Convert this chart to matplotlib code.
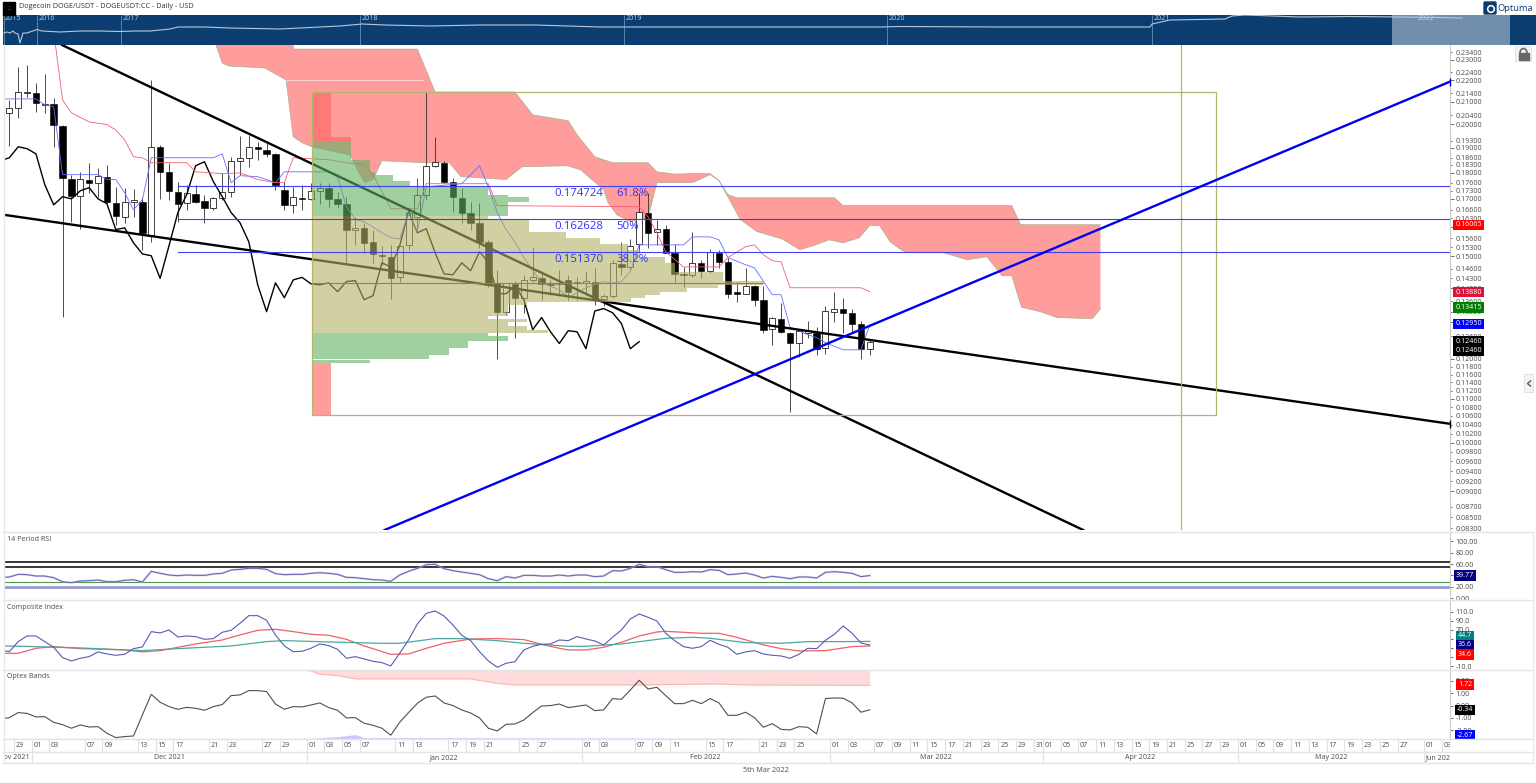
import matplotlib
matplotlib.use("Agg")
import matplotlib.pyplot as plt
from matplotlib.patches import Rectangle, FancyBboxPatch, Arc, Circle
import numpy as np

plt.rcParams['font.family'] = ['Open Sans', 'DejaVu Sans']

# daily candles, first one is 28 Nov 2021 (day -3), day 0 = 1 Dec 2021
first_day = -3
opens = [.2050, .2072, .2141, .2141, .2086, .2090, .1993, .1776, .1712, .1773, .1761, .1784, .1685, .1635, .1689, .1689,
         .1572, .1904, .1803, .1727, .1685, .1719, .1693, .1667, .1704, .1727, .1847, .1859, .1904, .1892, .1875, .1734,
         .1678, .1704, .1700, .1730, .1742, .1700, .1682, .1590, .1596, .1548, .1505, .1499, .1433, .1538, .1635, .1716,
         .1827, .1839, .1765, .1704, .1650, .1614, .1548, .1416, .1330, .1413, .1371, .1425, .1430, .1413, .1413, .1425,
         .1416, .1416, .1420, .1368, .1377, .1476, .1466, .1542, .1650, .1583, .1593, .1512, .1444, .1441, .1479, .1454,
         .1512, .1482, .1386, .1383, .1407, .1365, .1282, .1310, .1271, .1241, .1271, .1271, .1229, .1330, .1339, .1327,
         .1296, .1227]
highs = [.2108, .2265, .2275, .2187, .2230, .2117, .1998, .1792, .1803, .1839, .1819, .1831, .1745, .1742, .1738, .1708,
         .2202, .1912, .1839, .1765, .1753, .1753, .1716, .1708, .1799, .1863, .1950, .1954, .1925, .1921, .1879, .1765,
         .1745, .1753, .1761, .1761, .1761, .1727, .1708, .1635, .1614, .1590, .1535, .1538, .1535, .1671, .1780, .2145,
         .1945, .1847, .1780, .1742, .1689, .1685, .1555, .1457, .1416, .1423, .1441, .1532, .1454, .1425, .1457, .1441,
         .1433, .1454, .1463, .1383, .1489, .1548, .1558, .1723, .1723, .1625, .1607, .1542, .1466, .1583, .1489, .1525,
         .1522, .1496, .1420, .1463, .1410, .1407, .1316, .1356, .1273, .1279, .1304, .1285, .1347, .1389, .1371, .1339,
         .1302, .1251]
lows = [.1908, .2028, .2122, .2054, .2050, .1904, .1315, .1618, .1593, .1723, .1708, .1685, .1607, .1614, .1635, .1522,
        .1548, .1700, .1697, .1618, .1660, .1685, .1614, .1660, .1697, .1708, .1792, .1823, .1851, .1863, .1734, .1660,
        .1650, .1660, .1697, .1682, .1671, .1667, .1479, .1538, .1512, .1479, .1473, .1368, .1420, .1522, .1590, .1697,
        .1823, .1761, .1653, .1614, .1590, .1528, .1404, .1201, .1321, .1257, .1327, .1420, .1365, .1380, .1377, .1365,
        .1365, .1380, .1350, .1345, .1371, .1441, .1457, .1515, .1528, .1538, .1512, .1420, .1404, .1435, .1430, .1447,
        .1463, .1371, .1359, .1383, .1347, .1271, .1238, .1271, .1069, .1206, .1257, .1209, .1214, .1299, .1271, .1271,
        .1201, .1209]
closes = [.2072, .2145, .2145, .2095, .2090, .1998, .1780, .1709, .1776, .1761, .1788, .1689, .1639, .1689, .1697, .1579,
          .1904, .1803, .1730, .1682, .1723, .1689, .1667, .1704, .1727, .1847, .1859, .1904, .1896, .1875, .1753, .1678,
          .1708, .1700, .1730, .1742, .1700, .1682, .1590, .1596, .1545, .1508, .1502, .1430, .1535, .1650, .1716, .1827,
          .1843, .1765, .1708, .1650, .1614, .1548, .1410, .1330, .1416, .1371, .1425, .1433, .1413, .1410, .1416, .1389,
          .1420, .1423, .1365, .1377, .1479, .1466, .1535, .1653, .1579, .1593, .1512, .1444, .1441, .1479, .1454, .1515,
          .1482, .1383, .1383, .1407, .1365, .1279, .1313, .1273, .1241, .1276, .1273, .1227, .1332, .1339, .1327, .1296,
          .1227, .1246]

# lagging span, day -4 to day 68
lagging = [.1847, .1859, .1904, .1896, .1875, .1753, .1678, .1708, .1700, .1730, .1742, .1700, .1682, .1590, .1596, .1545,
           .1508, .1502, .1430, .1535, .1650, .1716, .1827, .1843, .1765, .1708, .1650, .1614, .1548, .1410, .1330, .1416,
           .1371, .1425, .1433, .1413, .1410, .1416, .1389, .1420, .1423, .1365, .1377, .1479, .1466, .1535, .1653, .1579,
           .1593, .1512, .1444, .1441, .1479, .1454, .1515, .1482, .1383, .1383, .1407, .1365, .1279, .1313, .1273, .1241,
           .1276, .1273, .1227, .1332, .1339, .1327, .1296, .1227, .1246]

blue_days = [-4, 0, 1, 2, 3, 7, 8, 9, 10, 11, 12, 13, 20, 21, 22, 23, 25, 27, 28, 33, 34, 35, 36, 37, 39, 40, 41, 42, 43, 44,
             48, 50, 51, 52, 53, 54, 55, 57, 59, 60, 62, 64, 65, 66, 67, 68, 71, 73, 74, 76, 77, 78, 80, 81, 83, 84, 85, 87,
             88, 89, 91, 93, 94]
blue_vals = [.2113, .2113, .2086, .2077, .1792, .1792, .1773, .1773, .1723, .1660, .1697, .1859, .1859, .1875, .1761, .1788,
             .1784, .1761, .1803, .1803, .1784, .1671, .1625, .1618, .1579, .1562, .1558, .1650, .1583, .1745, .1757, .1827,
             .1745, .1650, .1590, .1548, .1496, .1416, .1395, .1371, .1401, .1420, .1416, .1420, .1451, .1538, .1538, .1538,
             .1565, .1565, .1555, .1496, .1473, .1463, .1380, .1380, .1286, .1265, .1257, .1243, .1224, .1224, .1293]

red_days = [2.2, 3, 4, 6, 8, 9, 10, 11, 12, 13, 17, 18, 21, 23, 25, 27, 28, 29, 31, 33, 35, 37, 38, 40, 42, 43, 44, 51, 52, 68,
            69, 70, 71, 73, 77, 78, 80, 81, 82, 83, 84, 85, 93, 94]
red_vals = [.2376, .2108, .2050, .2010, .1998, .1975, .1933, .1863, .1859, .1839, .1839, .1803, .1796, .1799, .1773, .1761,
            .1761, .1859, .1855, .1851, .1839, .1831, .1792, .1664, .1664, .1664, .1757, .1757, .1675, .1671, .1635, .1579,
            .1515, .1466, .1466, .1496, .1532, .1538, .1505, .1486, .1482, .1401, .1401, .1389]

cloud_top_days = [20, 29, 29, 43, 45, 54, 56, 60, 61, 63, 65, 69, 70, 72, 74, 76, 77, 78, 79, 90, 91, 110, 111, 120]
cloud_top = [.245, .245, .2355, .2355, .2145, .2145, .2041, .2015, .1954, .1863, .1839, .1839, .1803, .1794, .1796, .1796,
             .1769, .1716, .1704, .1704, .1675, .1675, .1607, .1607]
cloud_low_days = [20.3, 21, 21.7, 25.8, 28.2, 29, 30, 31.1, 35.4, 36.4, 37.1, 38, 39, 43.8, 46.6, 47.9, 49.8, 53, 54.8, 59.9,
                  61.4, 64, 64.5, 65.5, 67, 69, 70, 74, 76, 77, 78, 79.4, 81.3, 84.1, 86.1, 87.6, 89.4, 91, 92.8, 94, 95.1,
                  96.3, 97.7, 98.9, 102.3, 105, 107.2, 108.9, 110, 111.1, 113.2, 115.1, 119.1, 120]
cloud_low = [.2376, .2285, .2270, .2260, .2202, .1946, .1921, .1904, .1871, .1799, .1761, .1773, .1847, .1839, .1839, .1784,
             .1780, .1773, .1823, .1827, .1811, .1734, .1685, .1642, .1618, .1632, .1761, .1761, .1792, .1769, .1708, .1625,
             .1583, .1558, .1522, .1535, .1555, .1545, .1562, .1604, .1604, .1548, .1518, .1512, .1512, .1489, .1499, .1438,
             .1438, .1343, .1330, .1313, .1310, .1339]

# volume profile rows, volume is given in bar widths of the chart
profile_top = [.2145, .1946, .1925, .1851, .1803, .1792, .1769, .1749, .1716, .1708, .1689, .1639, .1625, .1583, .1562, .1542,
               .1522, .1499, .1479, .1451, .1423, .1410, .1401, .1389, .1380, .1371, .1359, .1350, .1318, .1310, .1301, .1288,
               .1279, .1271, .1260, .1248, .1229, .1211, .1198, .1190]
profile_bot = [.1946, .1925, .1851, .1803, .1792, .1769, .1749, .1716, .1708, .1689, .1639, .1625, .1583, .1562, .1542, .1522,
               .1499, .1479, .1451, .1423, .1410, .1401, .1389, .1380, .1371, .1359, .1350, .1318, .1310, .1301, .1288, .1279,
               .1271, .1260, .1248, .1229, .1211, .1200, .1190, .1062]
profile_vol = [2.1, 4.4, 4.4, 6.5, 7.1, 9.1, 11, 19.8, 22.1, 24.4, 22.1, 19.8, 24.4, 28.6, 32.5, 35.6, 37, 39.8, 40.9, 46.3,
               50.8, 45.7, 42.3, 39.2, 37.5, 35.9, 24.2, 22.1, 19.8, 24.2, 22.1, 24.2, 26.6, 19.8, 22.1, 17.6, 15.4, 13.2,
               6.5, 2.1]
profile_kind = ['x', 'x', 'g', 'g', 'g', 'g', 'g', 'g', 'g', 'g', 'g', 'o', 'o', 'o', 'o', 'o', 'o', 'o', 'o', 'o', 'o', 'o',
                'o', 'o', 'o', 'o', 'o', 'o', 'o', 'o', 'o', 'o', 'o', 'g', 'g', 'g', 'g', 'g', 'g', 'r']
profile_left = 31.13
profile_right = 133
profile_high = .2145
profile_low = .1062
poc_price = .1416
poc_end = 82
range_line_day = 129.1

fib_prices = [.174724, .162628, .151370]
fib_names = ['61.8%', '50%', '38.2%']
fib_start = 16

# trend lines: (day, price) at both ends
fall_days, fall_prices = [2.94, 118.05], [.2376, .0827]
flat_days, flat_prices = [-3.6, 159.4], [.1642, .1042]
rise_days, rise_prices = [39.3, 159.4], [.0827, .2194]

major_prices = [.23, .22, .21, .20, .19, .18, .17, .16, .15, .14, .13, .12, .11, .10, .09]
minor_prices = [.234, .224, .214, .204, .193, .186, .183, .176, .173, .166, .163, .156, .153, .146, .143, .136, .133, .126,
                .118, .116, .114, .112, .108, .106, .104, .102, .098, .096, .094, .092, .087, .085, .083]

price_tags = [.1606, .1388, .13415, .1295, .1246, .1221]
price_tag_text = ['0.16065', '0.13880', '0.13415', '0.12950', '0.12460', '0.12460']
price_tag_color = ['#ff0000', '#dc143c', '#008000', '#0000ff', '#000000', '#000000']

# indicators, one value per day from day -4 to day 94
rsi = [36.0, 37.2, 41.9, 41.3, 38.9, 38.9, 36.0, 28.9, 27.1, 30.1, 30.7, 31.9, 28.9, 28.9, 31.3, 32.4, 28.3, 47.2, 43.7, 40.7,
       39.5, 40.7, 40.1, 40.1, 42.5, 43.7, 49.5, 50.7, 52.5, 52.5, 50.7, 43.1, 41.3, 41.9, 41.9, 43.7, 44.8, 43.7, 41.9, 36.6,
       36.0, 34.2, 32.4, 31.9, 29.5, 40.7, 47.2, 52.5, 59.0, 59.6, 51.9, 48.4, 46.0, 43.7, 41.3, 34.2, 30.7, 37.8, 35.4, 40.1,
       40.1, 38.9, 38.9, 40.7, 38.9, 40.7, 40.7, 37.8, 38.9, 48.4, 47.8, 52.5, 59.6, 55.5, 55.5, 50.1, 45.4, 45.4, 46.6, 46.0,
       50.1, 49.0, 41.3, 42.5, 44.2, 40.7, 35.4, 38.3, 36.6, 34.2, 37.2, 37.2, 35.4, 45.4, 46.6, 45.4, 43.7, 37.8, 39.77]
rsi_levels_black = [64.3, 54.9]
rsi_level_green = 29
rsi_level_purple = 20
rsi_ticks = [100, 80, 60, 40, 20, 0]

composite = [25.9, 22.2, 44.2, 56.6, 56.6, 44.2, 31.7, 9.0, 1.7, 7.6, 11.2, 21.5, 17.1, 14.1, 16.3, 28.8, 32.5, 66.2, 63.2, 69.8,
             54.4, 56.6, 55.2, 49.3, 50.8, 64.7, 69.1, 84.5, 101.3, 101.3, 91.0, 58.8, 34.7, 22.2, 22.9, 29.5, 39.1, 35.4, 27.3,
             7.6, 11.2, 6.1, 1.0, -2.0, -9.3, 18.5, 47.8, 83.0, 106.4, 111.6, 100.6, 80.8, 58.1, 46.4, 22.2, 1.7, -12.2, -3.4,
             0.2, 25.9, 33.9, 38.3, 39.1, 47.8, 46.4, 55.2, 50.0, 45.6, 36.9, 53.7, 69.8, 94.0, 105.0, 97.7, 89.6, 62.5, 46.4,
             33.2, 29.5, 33.2, 47.1, 38.3, 31.7, 16.3, 21.5, 24.4, 17.1, 14.1, 12.7, 7.6, 16.3, 29.5, 28.8, 47.1, 60.3, 78.6,
             62.5, 41.2, 36.6]
comp_red_days = [-3.6, -2, 0, 2, 5, 10, 12, 14, 16, 18, 21, 23, 25, 27, 29, 31, 33, 35, 37, 40, 42, 44, 46, 49, 52, 55, 57, 59,
                 60, 62, 64, 66, 68, 70, 71, 73, 75, 77, 79, 82, 84, 86, 89, 92, 94]
comp_red = [18.5, 18.5, 29.5, 33.2, 28.8, 25.9, 21.5, 24.4, 31.7, 39.1, 47.8, 58.8, 69.1, 71.3, 66.2, 60.3, 58.1, 49.3, 34.7, 16.3,
            17.1, 29.5, 40.5, 50.0, 50.8, 48.6, 38.3, 29.5, 25.9, 25.9, 31.7, 42.7, 56.6, 65.4, 66.9, 64.7, 62.5, 62.5, 53.7,
            36.9, 28.8, 23.7, 24.4, 33.2, 34.6]
comp_teal_days = [-3.6, 0, 5, 12, 16, 22, 26, 28, 33, 39, 41, 45, 48, 52, 55, 60, 62, 66, 71, 74, 76, 80, 84, 87, 91, 94]
comp_teal = [34.7, 33.2, 30.3, 24.4, 28.8, 34.7, 44.2, 46.4, 43.4, 40.5, 40.5, 50.8, 50.8, 46.4, 40.5, 33.9, 33.9, 39.1, 51.5,
             53.7, 51.5, 42.0, 40.5, 44.2, 44.2, 44.7]
comp_ticks = [110, 90, 70, 50, 30, 10, -10]

optex = [-1.09, -.98, -.57, -.63, -.92, -.90, -1.36, -1.55, -1.84, -1.57, -1.74, -1.71, -2.25, -2.60, -2.52, -2.47, -.76, .92,
         .27, -.08, -.30, -.14, -.22, -.38, -.08, .08, .81, .87, 1.22, 1.22, 1.14, .13, -.30, -.08, -.11, .05, .22, -.16, -.38,
         -1.00, -.98, -1.44, -1.60, -1.84, -2.41, -1.36, -.57, .19, .68, .78, .22, 0, -.35, -.60, -1.00, -1.84, -2.06, -1.52,
         -1.49, -1.17, -.57, -.03, 0, .13, -.16, -.06, .05, -.41, -.35, .57, .51, 1.27, 2.06, 1.35, 1.49, .81, .16, .16, .43,
         .16, .57, .22, -.79, -.79, -.54, -.98, -1.76, -1.47, -1.93, -1.98, -1.71, -1.76, -2.30, .57, .62, .60, .22, -.54, -.34]
band_days = [30, 31, 32, 34, 36, 49, 52, 54, 68, 73, 77, 80, 94]
band_low = [2.90, 2.82, 2.55, 2.44, 2.17, 2.17, 1.81, 1.68, 1.68, 1.73, 1.76, 1.68, 1.65]
low_band_days = [-3.6, 31, 34, 36, 37, 94]
low_band = [-2.67, -2.66, -2.52, -2.36, -2.60, -2.67]
optex_ticks = [2, 1, 0, -1, -2]

# date axis, ticks are in bar numbers
day_ticks = [-2, 0, 2, 6, 8, 12, 14, 16, 20, 22, 26, 28, 31, 33, 35, 37, 41, 43, 47, 49, 51, 55, 57, 62, 64, 68, 70, 72, 76, 78,
             82, 84, 86, 90, 92, 95, 97, 99, 101, 103, 105, 107, 109, 111, 113, 114, 116, 118, 120, 122, 124, 126, 128, 130,
             132, 134, 136, 138, 140, 142, 144, 146, 148, 150, 152, 154, 157, 159]
day_names = ['29', '01', '03', '07', '09', '13', '15', '17', '21', '23', '27', '29', '01', '03', '05', '07', '11', '13', '17', '19',
             '21', '25', '27', '01', '03', '07', '09', '11', '15', '17', '21', '23', '25', '01', '03', '07', '09', '11', '15',
             '17', '21', '23', '25', '29', '31', '01', '05', '07', '11', '13', '15', '19', '21', '25', '27', '29', '01', '05',
             '09', '11', '13', '17', '19', '23', '25', '27', '01', '03']
month_starts = [0, 31, 62, 90, 114, 136, 157]
month_names = ['Nov 2021', 'Dec 2021', 'Jan 2022', 'Feb 2022', 'Mar 2022', 'Apr 2022', 'May 2022', 'Jun 2022']
month_pos = [-2.0, 15.5, 46.5, 76, 102, 125, 146.5, 157.2]

# overview strip along the top
nav_x = [4, 7, 10, 13, 15, 18, 20, 23, 27, 37, 42, 60, 80, 100, 120, 135, 150, 170, 178, 190, 205, 230, 280, 340, 362, 385, 430,
         480, 535, 600, 640, 700, 780, 880, 900, 1000, 1100, 1150, 1152, 1170, 1225, 1232, 1245, 1300, 1350, 1400, 1440, 1462]
nav_y = [12, 13, 12, 14, 12, 11, 2, 12, 12, 15.5, 14, 13, 14, 14, 13.5, 14, 14, 16, 18, 18, 18, 17, 16, 19, 21, 20, 19, 20, 20,
         18, 18, 18, 18, 18, 18.5, 18, 18, 18, 21, 25, 26, 29, 30, 28, 28.5, 28, 27.5, 27]
nav_years = ['2015', '2016', '2017', '2018', '2019', '2020', '2021', '2022']
nav_year_x = [3.5, 37, 121, 360, 624, 887, 1152, 1416]
nav_window = [1392, 1510]

W, H = 1536, 783
text_col = '#4a4a4a'
fs = 5.1


def rect(l, t, r, b):
    return [l / W, 1 - b / H, (r - l) / W, (b - t) / H]


fig = plt.figure(figsize=(W / 100, H / 100), dpi=100, facecolor='white')

xmin, xmax = -3.6, 159.4
ax = fig.add_axes(rect(4, 45, 1450, 530))
ax.set_yscale('log')

# cloud
cx = cloud_top_days + cloud_low_days[::-1]
cy = cloud_top + cloud_low[::-1]
ax.fill(cx, cy, color='#ff0000', alpha=0.39, lw=0, zorder=1)
ax.plot(cloud_top_days, cloud_top, color='#a8b088', lw=0.5, zorder=1.1)
ax.plot(cloud_low_days, cloud_low, color='#a8b088', lw=0.5, zorder=1.1)
ax.plot([28.2, 43.6], [.2202, .2202], color='#ffd8d8', lw=0.6, zorder=1.1)

# candles
days = np.arange(first_day, first_day + len(closes))
o, h, l, c = np.array(opens), np.array(highs), np.array(lows), np.array(closes)
up = c >= o
ax.vlines(days, l, h, color='#303030', lw=0.6, zorder=3)
ax.bar(days[up], np.maximum((c - o)[up], 0.0003), bottom=o[up], width=0.68, facecolor='white', edgecolor='#202020', lw=0.6, zorder=3.1)
ax.bar(days[~up], np.maximum((o - c)[~up], 0.0004), bottom=c[~up], width=0.72, facecolor='black', edgecolor='black', lw=0.4, zorder=3.1)

# ichimoku lines
ax.plot(np.arange(-4, -4 + len(lagging)), lagging, color='black', lw=1.0, zorder=4)
ax.plot(blue_days, blue_vals, color='#6a6aff', lw=0.6, zorder=4)
ax.plot(red_days, red_vals, color='#f06070', lw=0.6, zorder=4)

# trend lines
ax.plot(fall_days, fall_prices, color='black', lw=1.7, zorder=4.2)
ax.plot(flat_days, flat_prices, color='black', lw=1.7, zorder=4.2)
ax.plot(flat_days[-1:], flat_prices[-1:], marker='|', color='black', ms=6, mew=1, clip_on=False, zorder=4.2)

# volume profile on top of the candles
kind_col = {'x': ('#ff0000', 0.22), 'g': ('#61b161', 0.6), 'o': ('#b2b264', 0.6), 'r': ('#ff0000', 0.39)}
for top, bot, vol, kind in zip(profile_top, profile_bot, profile_vol, profile_kind):
    col, alpha = kind_col[kind]
    ax.barh(bot, vol, height=top - bot, left=profile_left, align='edge', color=col, alpha=alpha, lw=0, zorder=5)
ax.plot([profile_left, profile_right, profile_right, profile_left, profile_left],
        [profile_high, profile_high, profile_low, profile_low, profile_high], color='#b5b56e', lw=0.9, zorder=5.1)
ax.plot([range_line_day, range_line_day], [.08, .24], color='#b5b56e', lw=0.9, zorder=5.1)
ax.plot([profile_left, poc_end], [poc_price, poc_price], color='#e05a50', lw=0.8, zorder=5.2)

for price, name in zip(fib_prices, fib_names):
    ax.plot([fib_start, xmax], [price, price], color='#4040f0', lw=0.8, zorder=5.3)
    ax.text(58.4, price * 0.985, '%.6f' % price, color='#3030ff', fontsize=8.2, va='center', zorder=5.4)
    ax.text(65.4, price * 0.985, name, color='#3030ff', fontsize=8.2, va='center', zorder=5.4)

ax.plot(rise_days, rise_prices, color='#0000f0', lw=1.7, zorder=5.5)
ax.plot(rise_days[-1:], rise_prices[-1:], marker='|', color='#0000f0', ms=6, mew=1, clip_on=False, zorder=5.5)

ax.set_xlim(xmin, xmax)
ax.set_ylim(.0827, .2376)
ax.set_xticks([])
ax.yaxis.tick_right()
ax.set_yticks(major_prices, labels=['%.5f' % p for p in major_prices])
ax.set_yticks(minor_prices, labels=['%.5f' % p for p in minor_prices], minor=True)
ax.tick_params(axis='y', which='major', length=3.2, width=0.6, pad=0.6, labelsize=fs, color='#555555', labelcolor=text_col)
ax.tick_params(axis='y', which='minor', length=1.5, width=0.6, pad=2.3, labelsize=fs, color='#555555', labelcolor=text_col)
for s in ['top', 'left', 'bottom']:
    ax.spines[s].set_visible(False)
ax.spines['right'].set_color('#cccccc')
ax.set_facecolor('white')


def tags(a, vals, names, cols, pos):
    for v, n, col in zip(vals, names, cols):
        a.text(pos, v, n, color='white', fontsize=fs, ha='center', va='center', clip_on=False, zorder=20,
               transform=a.get_yaxis_transform(),
               bbox=dict(boxstyle='square,pad=0.25', facecolor=col, edgecolor='none'))


tags(ax, price_tags, price_tag_text, price_tag_color, 1.0128)


def panel(t, b, lo, hi, ticks, fmt, title):
    a = fig.add_axes(rect(4, t, 1450, b))
    a.set_xlim(xmin, xmax)
    a.set_ylim(lo, hi)
    a.set_xticks([])
    a.yaxis.tick_right()
    a.set_yticks(ticks, labels=[fmt % v for v in ticks])
    a.tick_params(axis='y', length=1.8, width=0.6, pad=2.0, labelsize=fs, color='#555555', labelcolor=text_col)
    for s in ['top', 'left', 'bottom']:
        a.spines[s].set_visible(False)
    a.spines['right'].set_color('#cccccc')
    a.text(0.0021, 1 - 6.5 / (b - t), title, transform=a.transAxes, fontsize=fs, color=text_col, va='center')
    return a


ind_days = np.arange(-4, 95)

# rsi
ax1 = panel(533, 600, -3.5, 115, rsi_ticks, '%.2f', '14 Period RSI')
ax1.plot(ind_days, rsi, color='#6a6ab8', lw=0.8, zorder=3)
ax1.plot(ind_days, rsi, color='#b8b8e4', lw=1.6, alpha=0.5, zorder=2.9)
for lev in rsi_levels_black:
    ax1.axhline(lev, color='black', lw=1.1, zorder=2.5)
ax1.axhline(rsi_level_green, color='#4c9a4c', lw=0.8, zorder=2.5)
ax1.axhline(rsi_level_purple, color='#9a9ad0', lw=2.0, zorder=2.5)
tags(ax1, [rsi[-1]], ['39.77'], ['#000080'], 1.0104)

# composite index
ax2 = panel(601, 669, -16, 133.5, comp_ticks, '%.1f', 'Composite Index')
ax2.plot(comp_red_days, comp_red, color='#f06068', lw=0.9)
ax2.plot(comp_teal_days, comp_teal, color='#4aa8a0', lw=0.9)
ax2.plot(ind_days, composite, color='#5a5ab0', lw=0.8)
tags(ax2, [56.6, 36.8, 15.9], ['44.7', '36.6', '34.6'], ['#008080', '#000080', '#ff0000'], 1.0104)

# optex bands
ax3 = panel(670, 739, -2.715, 2.894, optex_ticks, '%.2f', 'Optex Bands')
ax3.fill_between(band_days, band_low, 2.88, color='#ffdcdc', lw=0)
ax3.plot(band_days, band_low, color='#ffb4b4', lw=0.8)
ax3.fill_between(low_band_days, low_band, -2.715, color='#c8c8ff', lw=0)
ax3.plot(ind_days, optex, color='#505050', lw=0.8)
tags(ax3, [1.72, -.34, -2.39], ['1.72', '-0.34', '-2.67'], ['#ff0000', '#000000', '#0000ff'], 1.0104)

# date axis
ax4 = fig.add_axes(rect(4, 739, 1450, 763))
ax4.set_xlim(xmin, xmax)
ax4.set_ylim(24, 0)
ax4.axis('off')
for t, n in zip(day_ticks, day_names):
    ax4.plot([t - .5, t - .5], [0, 13], color='#e2e2e2', lw=0.9, clip_on=True)
    ax4.text(t - .5 + .2, 6.5, n, fontsize=fs, color=text_col, va='center', ha='left', clip_on=True)
for t in month_starts:
    ax4.plot([t - .5, t - .5], [13, 24], color='#e2e2e2', lw=0.9)
for pos, n in zip(month_pos, month_names):
    ax4.text(pos - .5, 18.3, n, fontsize=fs, color=text_col, va='center',
             ha='left' if n.startswith('Jun') else 'center', clip_on=True)

# overview strip
nav = fig.add_axes(rect(3, 15, 1536, 45), zorder=6)
nav.set_xlim(3, 1536)
nav.set_ylim(0, 30)
nav.set_facecolor('#0b3d71')
nav.set_xticks([])
nav.set_yticks([])
for s in nav.spines.values():
    s.set_visible(False)
nav.vlines(nav_year_x, 0, 30, color='#6d8fb3', lw=0.6)
for x, n in zip(nav_year_x, nav_years):
    nav.text(x + 1.5, 26, n, color='#c4d2e0', fontsize=fs, va='center')
nav.plot(nav_x, nav_y, color='#b8c8d8', lw=0.8)
nav.axvspan(nav_window[0], nav_window[1], color='white', alpha=0.42, lw=0)

# everything around the panels
ov = fig.add_axes([0, 0, 1, 1], zorder=8)
ov.set_xlim(0, W)
ov.set_ylim(H, 0)
ov.axis('off')
ov.patch.set_alpha(0)
for y in [532, 600, 670, 739, 752, 763]:
    ov.plot([3, 1533], [y, y], color='#e4e4e4', lw=1.0)
ov.plot([3.5, 3.5], [45, 763], color='#e8e8e8', lw=1.0)
ov.plot([1533, 1533], [532, 763], color='#e8e8e8', lw=0.8)

ov.add_patch(Rectangle((3, 2), 12, 13, color='black'))
ov.text(9, 8.5, '\u2234', color='#aaaaaa', fontsize=4, ha='center', va='center')
ov.text(19, 6, 'Dogecoin DOGE/USDT - DOGEUSDT:CC - Daily - USD', fontsize=5.25, color='#333333', va='center')
ov.text(766, 771, '5th Mar 2022', fontsize=5.3, color=text_col, ha='center', va='center')

# logo
ov.add_patch(FancyBboxPatch((1485, 3), 10, 10, boxstyle='round,pad=1', color='#0b3d71'))
ov.add_patch(Circle((1491, 9), 3.4, color='white'))
ov.add_patch(Circle((1491, 9), 1.8, color='#0b3d71'))
ov.text(1497, 8.5, 'Optuma', fontsize=6.7, color='#0b3d71', va='center')

# lock and side tab
ov.add_patch(FancyBboxPatch((1516, 47), 15, 14, boxstyle='round,pad=0.5', facecolor='#f4f4f4', edgecolor='#e0e0e0', lw=0.6))
ov.add_patch(Rectangle((1518.5, 53), 10, 7, color='#666666'))
ov.add_patch(Arc((1523.5, 53), 7, 9, theta1=180, theta2=360, color='#666666', lw=1.2))
ov.add_patch(FancyBboxPatch((1525, 375), 8, 17, boxstyle='round,pad=0.5', facecolor='#f4f4f4', edgecolor='#dddddd', lw=0.6))
ov.plot([1530.5, 1527.5, 1530.5], [381, 383.5, 386], color='#666666', lw=1.1)

fig.savefig('out.png', dpi=100)
